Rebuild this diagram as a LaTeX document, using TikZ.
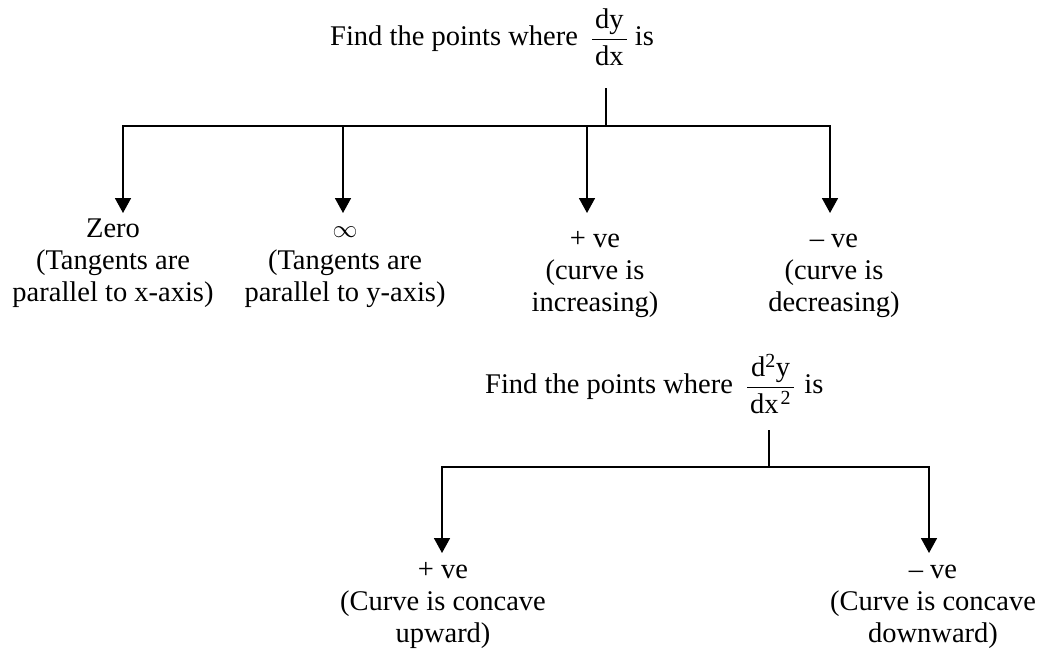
\documentclass[tikz,border=0pt]{standalone}
\usepackage{fontspec}
\setmainfont{Liberation Serif}
\usetikzlibrary{arrows.meta}
\newcommand{\dstrut}{\rule{0pt}{25.5pt}}
\begin{document}
\begin{tikzpicture}[x=1pt,y=-1pt,
  txt/.style={font=\fontsize{28.5}{32}\selectfont},
  lbl/.style={txt, align=center, inner sep=0pt, anchor=north},
  ttl/.style={txt, inner sep=0pt, anchor=base west},
  stem/.style={line width=1.1pt},
  arr/.style={line width=1.7pt, -{Triangle[width=16pt,length=15pt]}},
]
\useasboundingbox (0,0) rectangle (1041,657);

% first level
\node[ttl] (title1) at (330,45) {Find the points where\hspace{13pt}${\displaystyle\frac{\mbox{\hspace{3pt}dy\hspace{3pt}}}{\mbox{\dstrut dx}}}$ is};
\coordinate (s1) at (606,88);
\coordinate (j1) at (606,126);
\coordinate (b2) at (343,126);
\coordinate (b3) at (587,126);
\coordinate (t1) at (123,213);
\coordinate (t2) at (343,213);
\coordinate (t3) at (587,213);
\coordinate (t4) at (830,213);

\draw[stem] (s1) -- (j1);
\draw[arr] (j1) -| (t1);
\draw[arr] (j1) -| (t4);
\draw[arr] (b2) -- (t2);
\draw[arr] (b3) -- (t3);

\node[lbl] (zero) at (113,217) {\rule{0pt}{20pt}Zero\\(Tangents are\\parallel to x-axis)};
\node[lbl] (inf) at (345,217) {\rule{0pt}{20pt}$\infty$\\(Tangents are\\parallel to y-axis)};
\node[lbl] (pos) at (595,227) {\rule{0pt}{20pt}+ ve\\(curve is\\increasing)};
\node[lbl] (neg) at (834,227) {\rule{0pt}{20pt}\textendash{} ve\\(curve is\\decreasing)};

% second level
\node[ttl] (title2) at (485,393) {Find the points where\hspace{13pt}${\displaystyle\frac{\mbox{\hspace{4pt}d\textsuperscript{2}y\hspace{4pt}}}{\mbox{\dstrut dx\hspace{2pt}\textsuperscript{2}}}}$\hspace{2pt} is};
\coordinate (s2) at (769,430);
\coordinate (j2) at (769,467);
\coordinate (u1) at (442,553);
\coordinate (u2) at (929,553);

\draw[stem] (s2) -- (j2);
\draw[arr] (j2) -| (u1);
\draw[arr] (j2) -| (u2);

\node[lbl] (cup) at (443,558) {\rule{0pt}{20pt}+ ve\\(Curve is concave\\upward)};
\node[lbl] (cdown) at (933,558) {\rule{0pt}{20pt}\textendash{} ve\\(Curve is concave\\downward)};
\end{tikzpicture}
\end{document}
